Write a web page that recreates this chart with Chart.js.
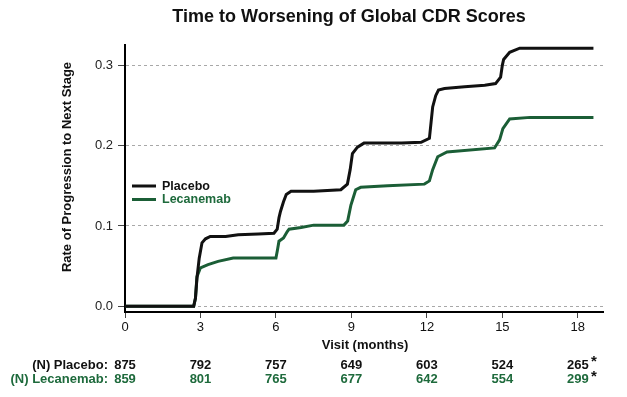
<!DOCTYPE html>
<html>
<head>
<meta charset="utf-8">
<script src="https://cdn.jsdelivr.net/npm/chart.js@4"></script>
<style>
  body { margin: 0; background: #fff; }
  #wrap { width: 627px; height: 397px; }
</style>
</head>
<body>
<div id="wrap"><canvas id="km-chart"></canvas></div>
<script>
// curves (months, cumulative rate)
const placeboMonths = [0, 2.73, 2.8, 2.86, 2.95, 3.06, 3.2, 3.39, 4.0, 4.5, 5.3, 5.92, 6.05, 6.12, 6.18, 6.3, 6.41, 6.6, 7.5, 8.58, 8.84, 8.95, 9.04, 9.24, 9.5, 11.0, 11.77, 12.1, 12.17, 12.23, 12.35, 12.46, 12.7, 13.5, 14.3, 14.73, 14.93, 15.0, 15.05, 15.29, 15.69, 18.62];
const placeboRate = [0, 0, 0.01, 0.035, 0.06, 0.079, 0.084, 0.087, 0.087, 0.089, 0.09, 0.091, 0.096, 0.11, 0.118, 0.13, 0.139, 0.143, 0.143, 0.145, 0.152, 0.17, 0.19, 0.198, 0.203, 0.203, 0.204, 0.209, 0.23, 0.248, 0.262, 0.269, 0.271, 0.273, 0.275, 0.277, 0.285, 0.3, 0.307, 0.316, 0.321, 0.321];

const lecMonths = [0, 2.73, 2.8, 2.86, 3.0, 3.3, 3.7, 4.3, 6.0, 6.06, 6.12, 6.3, 6.45, 6.52, 7.0, 7.5, 8.7, 8.85, 8.98, 9.17, 9.37, 10.44, 11.9, 12.1, 12.23, 12.43, 12.8, 14.69, 14.89, 15.02, 15.29, 16.1, 18.62];
const lecRate = [0, 0, 0.01, 0.037, 0.048, 0.052, 0.056, 0.06, 0.06, 0.07, 0.081, 0.085, 0.093, 0.096, 0.098, 0.101, 0.101, 0.106, 0.126, 0.145, 0.148, 0.15, 0.152, 0.156, 0.17, 0.186, 0.192, 0.197, 0.207, 0.221, 0.233, 0.235, 0.235];

// number at risk
const visitMonths = [0, 3, 6, 9, 12, 15, 18];
const placeboN = ["875", "792", "757", "649", "603", "524", "265"];
const lecN = ["859", "801", "765", "677", "642", "554", "299"];

const yTicks = [0, 0.1, 0.2, 0.3];

const FONT = '"Liberation Sans", Arial, sans-serif';
const BLACK = '#111111';
const GREEN = '#1b5e36';
const GREEN_TXT = '#1e6a3c';

function toPoints(xs, ys) {
    return xs.map((x, i) => ({ x: x, y: ys[i] }));
}

const extras = {
    id: 'extras',
    afterDraw(chart) {
        const ctx = chart.ctx;
        const xs = chart.scales.x;
        ctx.save();

        // title
        ctx.fillStyle = BLACK;
        ctx.font = 'bold 18px ' + FONT;
        ctx.textAlign = 'center';
        ctx.textBaseline = 'middle';
        ctx.fillText('Time to Worsening of Global CDR Scores', 349, 17);

        // axis titles
        ctx.font = 'bold 13px ' + FONT;
        ctx.fillText('Visit (months)', 365, 345);
        ctx.save();
        ctx.translate(67, 167);
        ctx.rotate(-Math.PI / 2);
        ctx.fillText('Rate of Progression to Next Stage', 0, 0);
        ctx.restore();

        // legend inside the plot
        const leg = [['Placebo', BLACK, BLACK, 186], ['Lecanemab', GREEN, GREEN_TXT, 199.5]];
        ctx.font = 'bold 12.5px ' + FONT;
        ctx.textAlign = 'left';
        leg.forEach(([label, lc, tc, y]) => {
            ctx.strokeStyle = lc;
            ctx.lineWidth = 3;
            ctx.beginPath();
            ctx.moveTo(132, y);
            ctx.lineTo(156, y);
            ctx.stroke();
            ctx.fillStyle = tc;
            ctx.fillText(label, 162, y + 0.5);
        });

        // number at risk table
        const rows = [['(N) Placebo:', placeboN, BLACK, 365], ['(N) Lecanemab:', lecN, GREEN_TXT, 379.5]];
        rows.forEach(([label, vals, col, y]) => {
            ctx.fillStyle = col;
            ctx.font = 'bold 13px ' + FONT;
            ctx.textAlign = 'right';
            ctx.fillText(label, 108, y);
            ctx.textAlign = 'center';
            vals.forEach((v, i) => {
                ctx.fillText(v, xs.getPixelForValue(visitMonths[i]), y);
            });
            const last = xs.getPixelForValue(visitMonths[visitMonths.length - 1]);
            ctx.fillStyle = BLACK;
            ctx.font = 'bold 15px ' + FONT;
            ctx.fillText('*', last + 16, y - 3);
        });

        ctx.restore();
    }
};

let ctx = document.getElementById('km-chart').getContext('2d');

let chart = new Chart(ctx, {
    type: 'scatter',
    data: {
        datasets: [{
            label: 'Placebo',
            data: toPoints(placeboMonths, placeboRate),
            borderColor: BLACK,
            backgroundColor: BLACK,
            borderWidth: 3,
            showLine: true,
            pointRadius: 0,
            tension: 0
        }, {
            label: 'Lecanemab',
            data: toPoints(lecMonths, lecRate),
            borderColor: GREEN,
            backgroundColor: GREEN,
            borderWidth: 3,
            showLine: true,
            pointRadius: 0,
            tension: 0
        }]
    },
    options: {
        responsive: true,
        maintainAspectRatio: false,
        animation: false,
        layout: { padding: { top: 45, right: 24, left: 0, bottom: 0 } },
        plugins: {
            legend: { display: false },
            title: { display: false },
            tooltip: { enabled: false }
        },
        scales: {
            x: {
                type: 'linear',
                min: 0,
                max: 19,
                afterBuildTicks: (s) => { s.ticks = visitMonths.map(v => ({ value: v })); },
                afterFit: (s) => { s.height = 85; },
                ticks: { color: BLACK, font: { family: FONT, size: 13 }, padding: 2, maxRotation: 0 },
                grid: { drawOnChartArea: false, drawTicks: true, tickLength: 6, tickColor: '#444', tickWidth: 1 },
                border: { display: true, color: '#000', width: 2 }
            },
            y: {
                min: -0.007,
                max: 0.325,
                afterBuildTicks: (s) => { s.ticks = yTicks.map(v => ({ value: v })); },
                afterFit: (s) => { s.width = 125; },
                ticks: { color: '#222', font: { family: FONT, size: 13 }, padding: 5, callback: v => v.toFixed(1) },
                grid: { color: '#a8a8a8', lineWidth: 1, tickLength: 7, tickColor: '#444', tickWidth: 1, tickBorderDash: [] },
                border: { display: true, color: '#000', width: 2, dash: [3, 3] }
            }
        }
    },
    plugins: [extras]
});
</script>
</body>
</html>
